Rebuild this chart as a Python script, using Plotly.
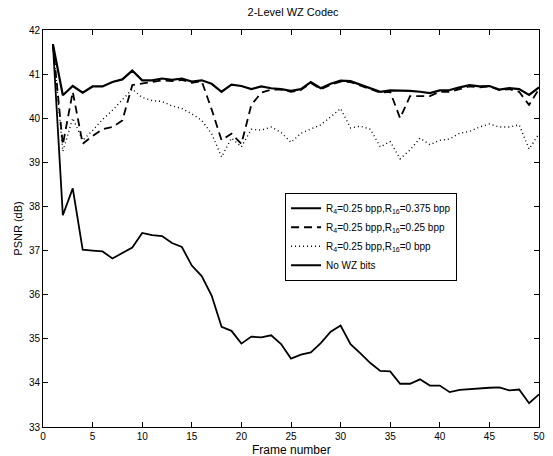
import plotly.graph_objects as go

frames = list(range(1, 51))

psnr_r16_0375 = [41.68, 40.52, 40.73, 40.58, 40.72, 40.72, 40.82, 40.88, 41.08, 40.86,
                 40.86, 40.90, 40.87, 40.90, 40.83, 40.86, 40.78, 40.60, 40.76, 40.73,
                 40.66, 40.72, 40.68, 40.66, 40.62, 40.66, 40.82, 40.68, 40.78, 40.85,
                 40.84, 40.76, 40.68, 40.60, 40.63, 40.63, 40.62, 40.60, 40.57, 40.63,
                 40.64, 40.70, 40.75, 40.72, 40.73, 40.65, 40.68, 40.66, 40.53, 40.70]

psnr_r16_025 = [41.68, 39.40, 40.60, 39.42, 39.60, 39.75, 39.80, 39.95, 40.75, 40.78,
                40.82, 40.86, 40.84, 40.87, 40.80, 40.84, 40.20, 39.50, 39.65, 39.42,
                40.30, 40.58, 40.65, 40.65, 40.60, 40.64, 40.80, 40.66, 40.76, 40.83,
                40.82, 40.74, 40.66, 40.58, 40.60, 40.00, 40.50, 40.50, 40.50, 40.60,
                40.60, 40.66, 40.72, 40.70, 40.72, 40.64, 40.66, 40.60, 40.30, 40.66]

psnr_r16_0 = [41.68, 39.25, 40.00, 39.50, 39.72, 39.97, 40.18, 40.42, 40.66, 40.47,
              40.40, 40.38, 40.28, 40.22, 40.10, 39.95, 39.65, 39.12, 39.55, 39.35,
              39.75, 39.73, 39.80, 39.68, 39.45, 39.66, 39.75, 39.85, 40.03, 40.22,
              39.78, 39.82, 39.75, 39.35, 39.47, 39.08, 39.28, 39.55, 39.40, 39.50,
              39.53, 39.66, 39.70, 39.80, 39.87, 39.80, 39.80, 39.85, 39.30, 39.65]

psnr_no_wz = [41.68, 37.80, 38.41, 37.02, 37.00, 36.98, 36.82, 36.95, 37.07, 37.40,
              37.35, 37.33, 37.17, 37.08, 36.66, 36.42, 35.98, 35.27, 35.18, 34.89,
              35.05, 35.03, 35.08, 34.88, 34.55, 34.64, 34.69, 34.90, 35.16, 35.30,
              34.88, 34.67, 34.45, 34.27, 34.26, 33.98, 33.98, 34.08, 33.94, 33.94,
              33.79, 33.84, 33.86, 33.87, 33.89, 33.90, 33.83, 33.85, 33.54, 33.74]

names = ["R<sub>4</sub>=0.25 bpp,R<sub>16</sub>=0.375 bpp",
         "R<sub>4</sub>=0.25 bpp,R<sub>16</sub>=0.25 bpp",
         "R<sub>4</sub>=0.25 bpp,R<sub>16</sub>=0 bpp",
         "No WZ bits"]

x_ticks = list(range(0, 51, 5))
y_ticks = list(range(33, 43))

FONT = "Liberation Sans, Arial, DejaVu Sans"

fig = go.Figure()
fig.add_trace(go.Scatter(x=frames, y=psnr_r16_0375, mode="lines", name=names[0],
                         line=dict(color="black", width=2.2, dash="solid")))
fig.add_trace(go.Scatter(x=frames, y=psnr_r16_025, mode="lines", name=names[1],
                         line=dict(color="black", width=1.8, dash="8px,5px")))
fig.add_trace(go.Scatter(x=frames, y=psnr_r16_0, mode="lines", name=names[2],
                         line=dict(color="black", width=1.4, dash="1px,3px")))
fig.add_trace(go.Scatter(x=frames, y=psnr_no_wz, mode="lines", name=names[3],
                         line=dict(color="black", width=1.8, dash="solid")))

axis_common = dict(showline=True, linecolor="black", linewidth=1, mirror="ticks",
                   ticks="inside", ticklen=5, tickcolor="black", tickwidth=1,
                   showgrid=False, zeroline=False,
                   tickfont=dict(family=FONT, size=10, color="black"))

fig.update_layout(
    width=553, height=456,
    margin=dict(l=43, r=8, t=30, b=29),
    paper_bgcolor="white", plot_bgcolor="white",
    title=dict(text="2-Level WZ Codec", x=0.53, xanchor="center", y=0.974, yanchor="middle",
               font=dict(family=FONT, size=11, color="black")),
    xaxis=dict(range=[0, 50], tickvals=x_ticks, ticklabelstandoff=0, **axis_common),
    yaxis=dict(range=[33, 42], tickvals=y_ticks,
               title=dict(text="PSNR (dB)", standoff=4,
                          font=dict(family=FONT, size=11, color="black")),
               **axis_common),
    legend=dict(x=0.488, y=0.59, xanchor="left", yanchor="top",
                bgcolor="white", bordercolor="black", borderwidth=1,
                tracegroupgap=0, itemwidth=30,
                font=dict(family=FONT, size=10, color="black")),
    showlegend=True,
    annotations=[dict(text="Frame number", xref="paper", yref="paper",
                      x=0.5, y=-0.057, xanchor="center", yanchor="middle",
                      showarrow=False, font=dict(family=FONT, size=12, color="black"))],
)

fig.write_html("out.html", config={"displayModeBar": False},
               post_script="document.body.style.margin='0';document.body.style.padding='0';")
